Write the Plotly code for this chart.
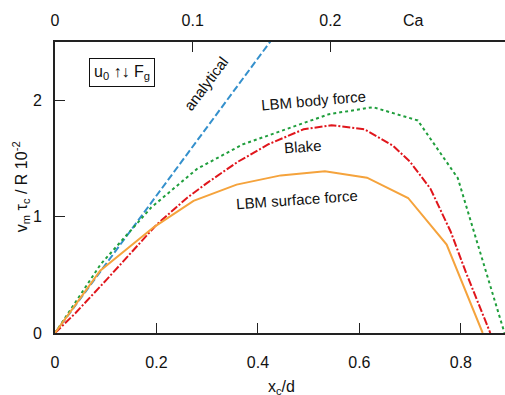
import plotly.graph_objects as go

# ---- data ----
analytical_x = [0.0, 0.5]
analytical_y = [0.0, 2.95]

body_x = [0.0, 0.09, 0.19, 0.28, 0.37, 0.455, 0.54, 0.627, 0.715, 0.794, 0.886]
body_y = [0.0, 0.59, 1.08, 1.41, 1.62, 1.75, 1.88, 1.94, 1.826, 1.33, 0.0]

blake_x = [0.0, 0.04, 0.1, 0.2, 0.26, 0.3, 0.36, 0.42, 0.49, 0.545, 0.61, 0.666, 0.7, 0.74, 0.78, 0.81, 0.858]
blake_y = [0.0, 0.17, 0.45, 0.93, 1.16, 1.29, 1.47, 1.62, 1.75, 1.785, 1.75, 1.61, 1.47, 1.24, 0.87, 0.52, 0.0]

surf_x = [0.0, 0.089, 0.195, 0.273, 0.358, 0.445, 0.532, 0.615, 0.696, 0.772, 0.843]
surf_y = [0.0, 0.535, 0.91, 1.135, 1.275, 1.354, 1.39, 1.334, 1.16, 0.76, 0.0]

x_ticks = [0, 0.2, 0.4, 0.6, 0.8]
x_ticktext = ["0", "0.2", "0.4", "0.6", "0.8"]
y_ticks = [0, 1, 2]
ca_ticks = [0, 0.1, 0.2]
ca_ticktext = ["0", "0.1", "0.2"]
ca_per_x = 1 / 2.714  # Ca scale relative to x_c/d

FONT = "Liberation Sans, Arial, sans-serif"
x_range = [0, 0.887]
y_range = [0, 2.5]

fig = go.Figure()
fig.add_trace(go.Scatter(x=analytical_x, y=analytical_y, mode="lines",
                         line=dict(color="#3490cc", width=2, dash="7px,3px")))
fig.add_trace(go.Scatter(x=body_x, y=body_y, mode="lines",
                         line=dict(color="#1f9e3c", width=2, dash="3px,3px")))
fig.add_trace(go.Scatter(x=blake_x, y=blake_y, mode="lines",
                         line=dict(color="#e0161c", width=2, dash="8px,2px,2px,2px")))
fig.add_trace(go.Scatter(x=surf_x, y=surf_y, mode="lines",
                         line=dict(color="#f5a33c", width=2)))
# invisible trace to carry the top Ca axis
fig.add_trace(go.Scatter(x=[0, 0.2], y=[0, 0], xaxis="x2", mode="markers",
                         marker=dict(opacity=0), hoverinfo="skip"))

axis_common = dict(showgrid=False, zeroline=False, showline=True, linecolor="#222",
                   linewidth=1.6, ticks="inside", ticklen=10, tickwidth=1, tickcolor="#222",
                   automargin=False,
                   tickfont=dict(family=FONT, size=16, color="#111"))

fig.update_layout(
    width=505, height=395,
    margin=dict(l=55, r=0, t=42, b=62),
    paper_bgcolor="white", plot_bgcolor="white",
    showlegend=False,
    font=dict(family=FONT, size=16, color="#111"),
    xaxis=dict(range=x_range, tickvals=x_ticks, ticktext=x_ticktext,
               ticklabelstandoff=14, **axis_common),
    xaxis2=dict(range=[x_range[0] * ca_per_x, x_range[1] * ca_per_x], overlaying="x",
                side="top", anchor="y", tickvals=ca_ticks, ticktext=ca_ticktext,
                ticklabelstandoff=8, **axis_common),
    yaxis=dict(range=y_range, tickvals=y_ticks, ticklabelstandoff=8, **axis_common),
)

ann_font = dict(family=FONT, size=15, color="#111")
fig.add_annotation(x=0.298, y=2.14, text="analytical", textangle=-53, showarrow=False, font=ann_font)
fig.add_annotation(x=0.51, y=2.0, text="LBM body force", textangle=-5, showarrow=False, font=ann_font)
fig.add_annotation(x=0.489, y=1.6, text="Blake", textangle=-4, showarrow=False, font=ann_font)
fig.add_annotation(x=0.477, y=1.15, text="LBM surface force", textangle=-4, showarrow=False, font=ann_font)
fig.add_annotation(xref="paper", yref="paper", x=0.149, y=0.895,
                   xanchor="center", yanchor="middle",
                   text="u<sub>0</sub> ↑↓ F<sub>g</sub>", showarrow=False,
                   font=dict(family=FONT, size=16, color="#111"),
                   bordercolor="#111", borderwidth=1, borderpad=4, bgcolor="white")
fig.add_annotation(xref="paper", yref="paper", x=0.796, y=1.0756,
                   xanchor="center", yanchor="middle", text="Ca",
                   showarrow=False, font=dict(family=FONT, size=16, color="#111"))
# axis titles
fig.add_annotation(xref="paper", yref="paper", x=0.504, y=-0.186,
                   xanchor="center", yanchor="middle",
                   text="x<sub>c</sub>/d", showarrow=False,
                   font=dict(family=FONT, size=16, color="#111"))
fig.add_annotation(xref="paper", yref="paper", x=-0.075, y=0.502, textangle=-90,
                   xanchor="center", yanchor="middle",
                   text="v<sub>m</sub> τ<sub>c</sub> / R 10<sup>-2</sup>", showarrow=False,
                   font=dict(family=FONT, size=16, color="#111"))

# remove the default page margin so the figure fills the window exactly
fig.write_html("out.html",
               config={"displayModeBar": False},
               post_script="document.body.style.margin='0px';"
                           "document.documentElement.style.overflow='hidden';")
